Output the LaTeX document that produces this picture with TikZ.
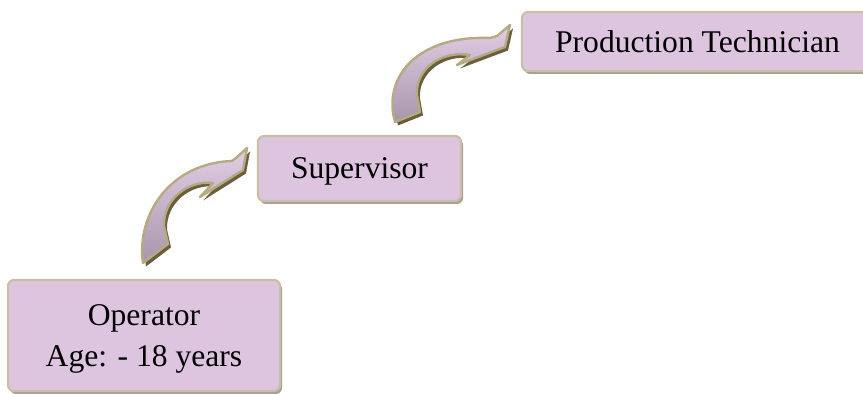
\documentclass[tikz,border=0pt]{standalone}
\usepackage{fontspec}
\setmainfont{Liberation Serif}
\usetikzlibrary{shadows}
\definecolor{boxfill}{RGB}{221,197,224}
\definecolor{boxline}{RGB}{200,192,166}
\definecolor{boxshadow}{RGB}{165,160,148}
\definecolor{arrtop}{RGB}{226,206,230}
\definecolor{arrbot}{RGB}{166,150,172}
\definecolor{arrline}{RGB}{182,170,130}
\definecolor{arrshadow}{RGB}{105,95,62}
\begin{document}
\begin{tikzpicture}[x=0.5pt,y=-0.5pt,
  stage/.style={draw=boxline, line width=1.1pt, fill=boxfill, rounded corners=3pt,
    inner sep=0pt,
    general shadow={fill=boxshadow, shadow xshift=1pt, shadow yshift=-1.5pt}},
  stagetext/.style={font=\fontsize{15.8}{20.8}\selectfont, align=center, inner sep=0pt},
  arrowbody/.style={top color=arrtop, bottom color=arrbot, draw=arrline, line width=1.2pt, line join=round},
  arrowshade/.style={fill=arrshadow}]
\useasboundingbox (0,0) rectangle (863,394);
\clip (0,0) rectangle (863,394);

\node[stage, minimum width=136pt, minimum height=55.5pt] (op) at (144,335.5) {};
\node[stage, minimum width=101.5pt, minimum height=32.5pt] (sup) at (359.5,168.5) {};
\node[stage, minimum width=175.5pt, minimum height=29.5pt] (pt) at (697.5,41.5) {};
\node[stagetext] (optxt) at ([yshift=-1.8pt]op.center) {Operator\\Age: - 18 years};
\node[stagetext] (suptxt) at ([yshift=-1.7pt]sup.center) {Supervisor};
\node[stagetext] (pttxt) at ([yshift=-0.3pt]pt.center) {Production Technician};

% arrow 1
\def\arrowone{(143,263) .. controls (136,215) and (170,163) .. (232,161) -- (236,158) -- (247,148) -- (243,170) -- (200,197) -- (213,183) .. controls (187,180) and (163,200) .. (164,226) -- (168,244) -- cycle}
\fill[arrowshade, shift={(3,3.5)}] \arrowone;
\path[arrowbody] \arrowone;

% arrow 2
\def\arrowtwo{(395,122) .. controls (382,75) and (420,35) .. (490,38) -- (497,36) -- (510,25) -- (505,47) -- (457,65) -- (470,55) .. controls (440,50) and (415,70) .. (417,95) -- (420,112) -- cycle}
\fill[arrowshade, shift={(3,3.5)}] \arrowtwo;
\path[arrowbody] \arrowtwo;
\end{tikzpicture}
\end{document}
